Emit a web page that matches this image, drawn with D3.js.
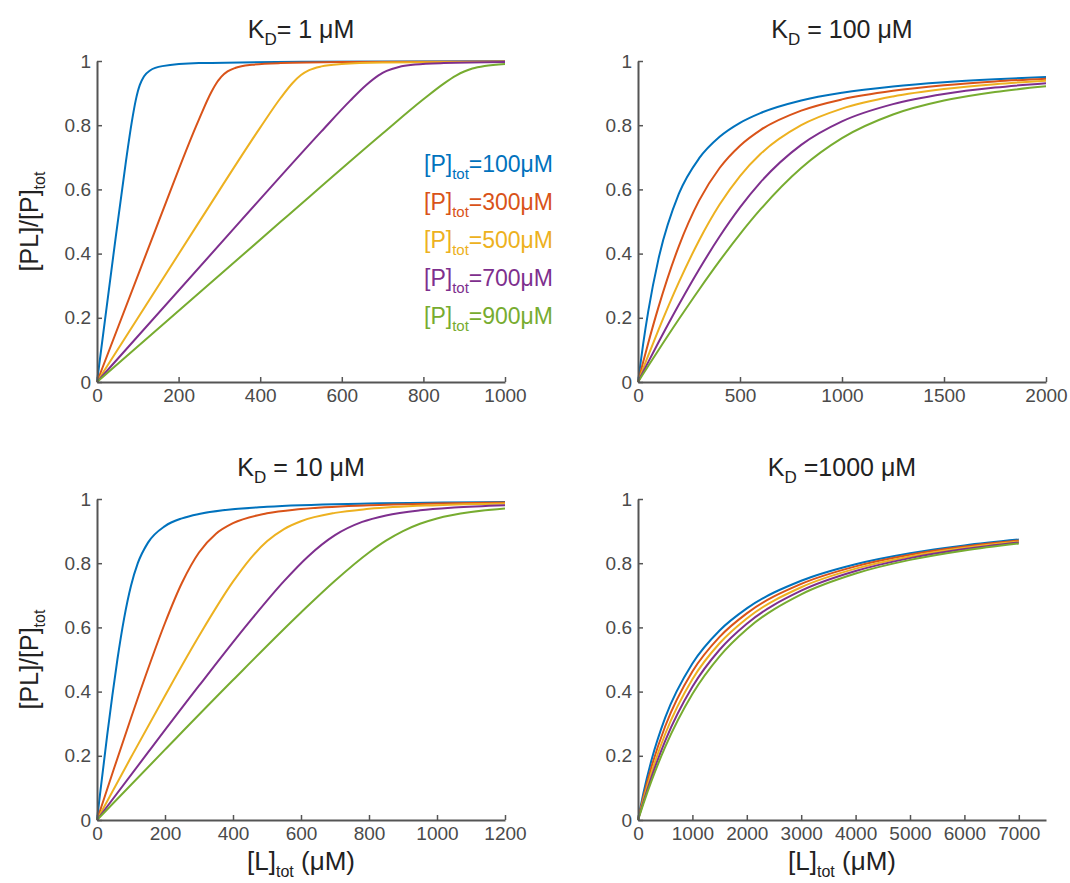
<!DOCTYPE html>
<html>
<head>
<meta charset="utf-8">
<script src="https://cdn.jsdelivr.net/npm/d3@7"></script>
<style>
  body { margin: 0; background: #fff; }
  text { font-family: "Liberation Sans", Arial, Helvetica, sans-serif; }
</style>
</head>
<body>
<div id="chart"></div>
<script>
// series (one per total protein concentration)
const legendValues = ["=100μM", "=300μM", "=500μM", "=700μM", "=900μM"];
const colors = ["#0072BD", "#D95319", "#EDB120", "#7E2F8E", "#77AC30"];
const yTicks = [0, 0.2, 0.4, 0.6, 0.8, 1];

// K_D = 1 uM
const kd1X = [
  [0, 20, 40, 70, 85, 95, 100, 105, 115, 130, 160, 250, 500, 1000],
  [0, 150, 250, 280, 295, 300, 305, 320, 340, 380, 450, 600, 1000],
  [0, 250, 400, 450, 480, 500, 520, 550, 600, 700, 1000],
  [0, 350, 550, 620, 660, 690, 700, 710, 740, 780, 850, 1000],
  [0, 450, 700, 800, 850, 880, 900, 920, 950, 1000]
];
const kd1Y = [
  [0, 0.1976, 0.3935, 0.6789, 0.8079, 0.878, 0.9049, 0.9256, 0.952, 0.9705, 0.984, 0.9934, 0.9975, 0.9989],
  [0, 0.4967, 0.8183, 0.9025, 0.9352, 0.9439, 0.9514, 0.9675, 0.9789, 0.9882, 0.9935, 0.9967, 0.9986],
  [0, 0.498, 0.7924, 0.8847, 0.9324, 0.9563, 0.9716, 0.9832, 0.9905, 0.9951, 0.998],
  [0, 0.4986, 0.7806, 0.8757, 0.9252, 0.9552, 0.9629, 0.9693, 0.9815, 0.9888, 0.9936, 0.9967],
  [0, 0.4989, 0.774, 0.8807, 0.9297, 0.9545, 0.9672, 0.9764, 0.9846, 0.9908]
];

// K_D = 10 uM
const kd10X = [
  [0, 10, 30, 45, 60, 80, 100, 120, 150, 200, 250, 300, 500, 800, 1200],
  [0, 50, 100, 150, 200, 250, 300, 350, 400, 500, 600, 800, 1000, 1200],
  [0, 100, 200, 300, 400, 450, 500, 550, 600, 700, 800, 1000, 1200],
  [0, 150, 300, 450, 550, 620, 700, 780, 850, 950, 1050, 1200],
  [0, 200, 400, 600, 700, 800, 850, 900, 950, 1000, 1100, 1200]
];
const kd10Y = [
  [0, 0.0901, 0.2641, 0.3869, 0.5, 0.6298, 0.7298, 0.8, 0.8641, 0.9156, 0.9398, 0.9534, 0.9758, 0.986, 0.991],
  [0, 0.1603, 0.3178, 0.4704, 0.6137, 0.739, 0.8333, 0.8918, 0.9246, 0.9553, 0.9687, 0.9806, 0.986, 0.989],
  [0, 0.1952, 0.3874, 0.5732, 0.7424, 0.813, 0.8682, 0.9064, 0.9308, 0.9568, 0.9693, 0.9808, 0.9861],
  [0, 0.2105, 0.4183, 0.6196, 0.7442, 0.8204, 0.8874, 0.9286, 0.9489, 0.9649, 0.9736, 0.9809],
  [0, 0.2191, 0.4359, 0.6464, 0.7453, 0.8333, 0.8701, 0.9, 0.9228, 0.9393, 0.9594, 0.9703]
];

// K_D = 100 uM (same ligand points for every series)
const kd100L = [0, 25, 50, 100, 200, 300, 400, 500, 600, 800, 1000, 1250, 1500, 1750, 2000];
const kd100Y = [
  [0, 0.1172, 0.2192, 0.382, 0.5858, 0.6972, 0.7639, 0.8074, 0.8377, 0.8769, 0.901, 0.9206, 0.9337, 0.943, 0.9501],
  [0, 0.0615, 0.1208, 0.2324, 0.4226, 0.5657, 0.6667, 0.7362, 0.7848, 0.8453, 0.8804, 0.9072, 0.9244, 0.9363, 0.945],
  [0, 0.0414, 0.0821, 0.1615, 0.3101, 0.4417, 0.5528, 0.6417, 0.7101, 0.8, 0.8517, 0.8895, 0.9126, 0.9279, 0.9387],
  [0, 0.0311, 0.062, 0.1229, 0.2405, 0.3512, 0.4531, 0.5439, 0.622, 0.7388, 0.8119, 0.8656, 0.8971, 0.9172, 0.931],
  [0, 0.0249, 0.0497, 0.0989, 0.1953, 0.2883, 0.3772, 0.4607, 0.5375, 0.6667, 0.7597, 0.8333, 0.8767, 0.9035, 0.9213]
];

// K_D = 1000 uM
const kd1000L = [0, 100, 250, 500, 1000, 1500, 2000, 3000, 4000, 5000, 6000, 7000];
const kd1000Y = [
  [0, 0.0839, 0.1878, 0.3189, 0.4875, 0.5904, 0.6592, 0.7453, 0.7968, 0.831, 0.8554, 0.8737],
  [0, 0.0726, 0.1667, 0.292, 0.4627, 0.5706, 0.6437, 0.7354, 0.7901, 0.8262, 0.8517, 0.8708],
  [0, 0.0638, 0.1492, 0.2679, 0.4385, 0.5505, 0.6277, 0.7251, 0.783, 0.8211, 0.8479, 0.8678],
  [0, 0.0568, 0.1347, 0.2466, 0.415, 0.5303, 0.6112, 0.7143, 0.7756, 0.8158, 0.844, 0.8648],
  [0, 0.0512, 0.1226, 0.2278, 0.3927, 0.51, 0.5943, 0.703, 0.7679, 0.8103, 0.8398, 0.8616]
];

const ticks1 = [0, 200, 400, 600, 800, 1000];
const ticks10 = [0, 200, 400, 600, 800, 1000, 1200];
const ticks100 = [0, 500, 1000, 1500, 2000];
const ticks1000 = [0, 1000, 2000, 3000, 4000, 5000, 6000, 7000];

const W = 1070, H = 883;
const plotW = 408, plotH = 321;
const axisColor = "#555555";
const tickTextColor = "#4a4a4a";

const svg = d3.select("#chart").append("svg")
  .attr("width", W)
  .attr("height", H);

const panels = [
  { left: 97, top: 61, title: ["= 1 μM"], domain: [0, 1000], ticks: ticks1,
    xs: kd1X, ys: kd1Y, ylabel: true, xlabel: false, legend: true },
  { left: 638, top: 61, title: [" = 100 μM"], domain: [0, 2000], ticks: ticks100,
    xs: kd100Y.map(() => kd100L), ys: kd100Y, ylabel: false, xlabel: false },
  { left: 97, top: 499, title: [" = 10 μM"], domain: [0, 1200], ticks: ticks10,
    xs: kd10X, ys: kd10Y, ylabel: true, xlabel: true },
  { left: 638, top: 499, title: [" =1000 μM"], domain: [0, 7500], ticks: ticks1000,
    xs: kd1000Y.map(() => kd1000L), ys: kd1000Y, ylabel: false, xlabel: true }
];

panels.forEach(p => {
  const x = d3.scaleLinear().domain(p.domain).range([p.left, p.left + plotW]);
  const y = d3.scaleLinear().domain([0, 1]).range([p.top + plotH, p.top]);
  const g = svg.append("g");

  const line = d3.line()
    .x(d => x(d[0]))
    .y(d => y(d[1]))
    .curve(d3.curveMonotoneX);

  p.ys.forEach((ys, i) => {
    const pts = ys.map((v, j) => [p.xs[i][j], v]);
    g.append("path")
      .datum(pts)
      .attr("d", line)
      .attr("fill", "none")
      .attr("stroke", colors[i])
      .attr("stroke-width", 2);
  });

  // axes, ticks pointing inward like matlab
  const xAxis = g.append("g")
    .attr("transform", `translate(0,${p.top + plotH})`)
    .call(d3.axisBottom(x).tickValues(p.ticks).tickSize(-5).tickSizeOuter(0)
      .tickPadding(7).tickFormat(d => String(d)));
  const yAxis = g.append("g")
    .attr("transform", `translate(${p.left},0)`)
    .call(d3.axisLeft(y).tickValues(yTicks).tickSize(-5).tickSizeOuter(0)
      .tickPadding(6).tickFormat(d => String(d)));

  [xAxis, yAxis].forEach(a => {
    a.select(".domain").attr("stroke", axisColor).attr("stroke-width", 2);
    a.selectAll(".tick line").attr("stroke", axisColor).attr("stroke-width", 1.5);
    a.selectAll(".tick text").attr("fill", tickTextColor).style("font-size", "19px")
      .style("font-family", '"Liberation Sans", Arial, sans-serif');
  });

  // title  K_D ...
  const t = svg.append("text")
    .attr("x", p.left + plotW / 2)
    .attr("y", p.top - 23)
    .attr("text-anchor", "middle")
    .style("font-size", "25px")
    .style("white-space", "pre")
    .attr("fill", "#222");
  t.append("tspan").text("K");
  t.append("tspan").attr("dy", 7).style("font-size", "17px").text("D");
  t.append("tspan").attr("dy", -7).text(p.title[0]);

  if (p.ylabel) {
    const yl = svg.append("text")
      .attr("transform", `translate(38,${p.top + plotH / 2}) rotate(-90)`)
      .attr("text-anchor", "middle")
      .style("font-size", "25px")
      .attr("fill", "#222");
    yl.append("tspan").text("[PL]/[P]");
    yl.append("tspan").attr("dy", 7).style("font-size", "16px").text("tot");
  }

  if (p.xlabel) {
    const xl = svg.append("text")
      .attr("x", p.left + plotW / 2)
      .attr("y", p.top + plotH + 50)
      .attr("text-anchor", "middle")
      .style("font-size", "26px")
      .style("white-space", "pre")
      .attr("fill", "#222");
    xl.append("tspan").text("[L]");
    xl.append("tspan").attr("dy", 7).style("font-size", "16px").text("tot");
    xl.append("tspan").attr("dy", -7).text(" (μM)");
  }

  if (p.legend) {
    legendValues.forEach((v, i) => {
      const lt = svg.append("text")
        .attr("x", 424)
        .attr("y", 172 + i * 38)
        .style("font-size", "23px")
        .attr("fill", colors[i]);
      lt.append("tspan").text("[P]");
      lt.append("tspan").attr("dy", 7).style("font-size", "15px").text("tot");
      lt.append("tspan").attr("dy", -7).text(v);
    });
  }
});
</script>
</body>
</html>
